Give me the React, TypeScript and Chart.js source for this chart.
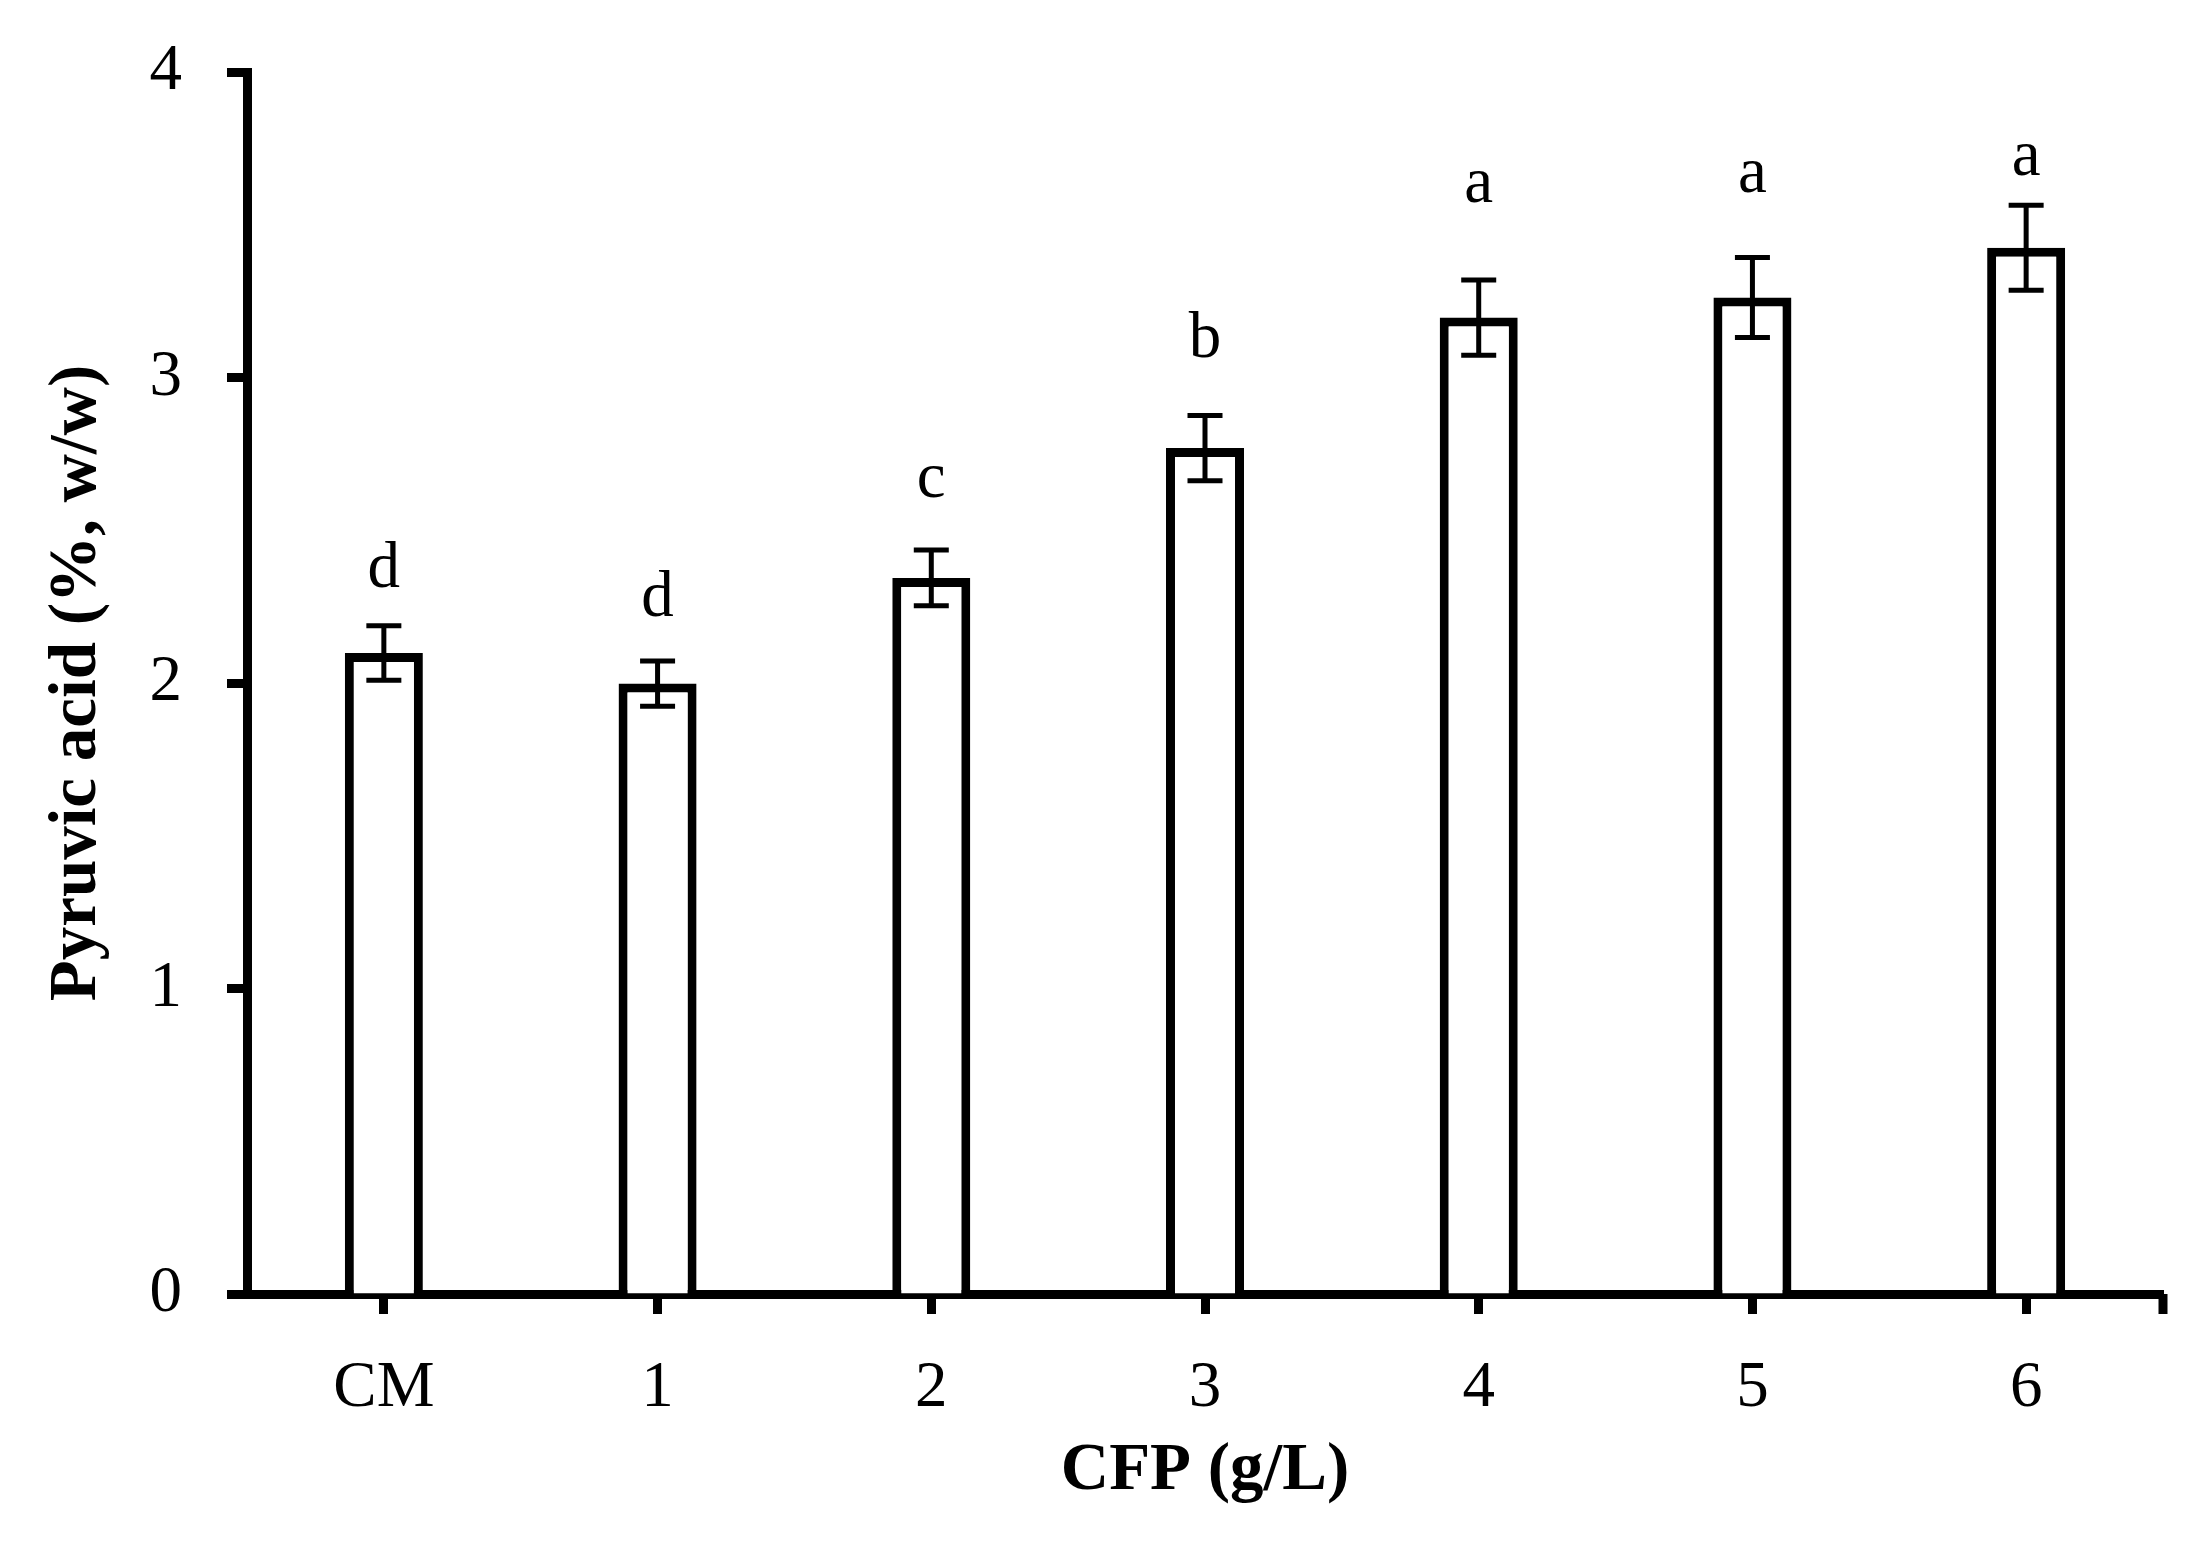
import React, { useEffect, useRef } from "react";
import { Chart, registerables } from "chart.js";

Chart.register(...registerables);

// ---- data ----
const categories = ["CM", "1", "2", "3", "4", "5", "6"];
const meanValues = [2.098, 1.998, 2.344, 2.769, 3.196, 3.262, 3.425];
const errorValues = [0.089, 0.074, 0.091, 0.107, 0.123, 0.131, 0.139];
const groupLetters = ["d", "d", "c", "b", "a", "a", "a"];
const letterLevels = [2.314, 2.219, 2.609, 3.067, 3.575, 3.607, 3.663];
const yMin = 0;
const yMax = 4;
const yStep = 1;
const xTitle = "CFP (g/L)";
const yTitle = "Pyruvic acid (%, w/w)";

const FONT = "'Liberation Serif', 'Times New Roman', serif";
const W = 2208;
const H = 1550;

const errorLetterPlugin = {
  id: "errorLetterPlugin",
  afterDatasetsDraw(chart: any) {
    const ctx = chart.ctx;
    const meta = chart.getDatasetMeta(0);
    const ys = chart.scales.y;
    const xs = chart.scales.x;
    ctx.save();
    ctx.strokeStyle = "#000";
    ctx.lineCap = "butt";
    const cap = 17.5;
    meta.data.forEach((bar: any, i: number) => {
      const x = bar.x;
      const top = ys.getPixelForValue(meanValues[i] + errorValues[i]);
      const bot = ys.getPixelForValue(meanValues[i] - errorValues[i]);
      ctx.lineWidth = 5;
      ctx.beginPath();
      ctx.moveTo(x, top);
      ctx.lineTo(x, bot);
      ctx.moveTo(x - cap, top);
      ctx.lineTo(x + cap, top);
      ctx.moveTo(x - cap, bot);
      ctx.lineTo(x + cap, bot);
      ctx.stroke();
      ctx.fillStyle = "#000";
      ctx.font = `65px ${FONT}`;
      ctx.textAlign = "center";
      ctx.textBaseline = "alphabetic";
      ctx.fillText(groupLetters[i], x, ys.getPixelForValue(letterLevels[i]));
    });
    // closing tick at the right end of the category axis
    ctx.lineWidth = 9;
    ctx.beginPath();
    ctx.moveTo(xs.right, xs.top);
    ctx.lineTo(xs.right, xs.top + 20);
    ctx.stroke();
    ctx.restore();
  },
};

export default function App() {
  const canvasRef = useRef<HTMLCanvasElement | null>(null);

  useEffect(() => {
    const canvas = canvasRef.current;
    if (!canvas) return;
    const chart = new Chart(canvas, {
      type: "bar",
      data: {
        labels: categories,
        datasets: [
          {
            data: meanValues,
            backgroundColor: "#ffffff",
            borderColor: "#000000",
            borderWidth: 9,
            borderSkipped: "bottom",
            barPercentage: 0.285,
            categoryPercentage: 1,
          },
        ],
      },
      options: {
        responsive: false,
        animation: false,
        devicePixelRatio: 1,
        layout: { padding: { top: 72, right: 45, bottom: 0, left: 0 } },
        plugins: {
          legend: { display: false },
          tooltip: { enabled: false },
        },
        scales: {
          x: {
            type: "category",
            offset: true,
            afterFit: (s: any) => {
              s.height = H - 1294;
              s.paddingLeft = 0;
              s.paddingRight = 0;
            },
            grid: {
              offset: false,
              drawOnChartArea: false,
              drawTicks: true,
              tickLength: 20,
              tickWidth: 9,
              tickColor: "#000",
            },
            border: { display: true, width: 9, color: "#000" },
            ticks: {
              color: "#000",
              font: { family: FONT, size: 65 },
              padding: 36,
              maxRotation: 0,
              autoSkip: false,
            },
            title: {
              display: true,
              text: xTitle,
              color: "#000",
              font: { family: FONT, size: 67, weight: "bold" },
              padding: { top: 0, bottom: 38 },
            },
          },
          y: {
            min: yMin,
            max: yMax,
            afterFit: (s: any) => {
              s.width = 247;
              s.paddingTop = 0;
              s.paddingBottom = 0;
            },
            grid: {
              drawOnChartArea: false,
              drawTicks: true,
              tickLength: 20,
              tickWidth: 9,
              tickColor: "#000",
            },
            border: { display: true, width: 9, color: "#000" },
            ticks: {
              stepSize: yStep,
              color: "#000",
              font: { family: FONT, size: 65 },
              padding: 45,
            },
            title: {
              display: true,
              text: yTitle,
              color: "#000",
              font: { family: FONT, size: 67, weight: "bold" },
              padding: { top: 37, bottom: 0 },
            },
          },
        },
      },
      plugins: [errorLetterPlugin],
    } as any);
    return () => chart.destroy();
  }, []);

  return (
    <div style={{ position: "fixed", left: 0, top: 0, width: W, height: H, background: "#fff" }}>
      <canvas ref={canvasRef} width={W} height={H} style={{ display: "block" }} />
    </div>
  );
}
